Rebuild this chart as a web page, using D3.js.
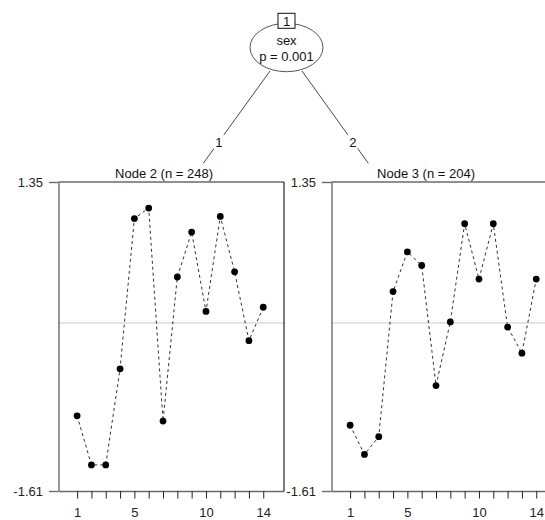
<!DOCTYPE html>
<html>
<head>
<meta charset="utf-8">
<script src="https://cdn.jsdelivr.net/npm/d3@7"></script>
<style>
  html, body { margin: 0; padding: 0; background: #fff; }
  svg { display: block; font-family: "Liberation Sans", Arial, Helvetica, sans-serif; }
</style>
</head>
<body>
<svg id="tree" width="545" height="520"></svg>
<script>
// Time points along the profile axis
const timePoints = [1, 2, 3, 4, 5, 6, 7, 8, 9, 10, 11, 12, 13, 14];
const timeTickLabels = [1, 5, 10, 14];

// Mean standardized response per time point in each terminal node
const node2Means = [-0.89, -1.36, -1.36, -0.44, 1.00, 1.10, -0.94, 0.44, 0.87, 0.11, 1.02, 0.49, -0.17, 0.15];
const node3Means = [-0.98, -1.26, -1.09, 0.30, 0.68, 0.55, -0.60, 0.01, 0.95, 0.42, 0.95, -0.04, -0.29, 0.42];

// Response range shown on each panel
const yTickValues = [-1.61, 1.35];
const referenceLevel = [0];

// Tree structure: split variable, test, branch labels, node sizes
const rootNode = { id: "1", variable: "sex", pValue: "p = 0.001" };
const branchLabels = ["1", "2"];
const terminalNodes = [
  { id: 2, n: 248, means: node2Means },
  { id: 3, n: 204, means: node3Means }
];

const svg = d3.select("#tree");
const FONT = 13;

// ---- Root node and edges ----
const root = { cx: 286.5, cy: 47.5, rx: 36.5, ry: 24.2 };
const edgeEnds = [
  { x1: 270, y1: 71, x2: 203.3, y2: 163.3 },
  { x1: 302, y1: 71, x2: 368.3, y2: 163.3 }
];
const edgeLabelY = 141.7;

const edges = svg.append("g");
edgeEnds.forEach((e, i) => {
  edges.append("line")
    .attr("x1", e.x1).attr("y1", e.y1)
    .attr("x2", e.x2).attr("y2", e.y2)
    .attr("stroke", "#4a4a4a").attr("stroke-width", 1);
  const t = (edgeLabelY - e.y1) / (e.y2 - e.y1);
  const lx = e.x1 + t * (e.x2 - e.x1);
  edges.append("rect")
    .attr("x", lx - 5).attr("y", edgeLabelY - 7)
    .attr("width", 10).attr("height", 14)
    .attr("fill", "#fff");
  edges.append("text")
    .attr("x", lx).attr("y", edgeLabelY + 4.8)
    .attr("text-anchor", "middle")
    .attr("font-size", FONT).attr("fill", "#111")
    .text(branchLabels[i]);
});

const rootG = svg.append("g");
rootG.append("ellipse")
  .attr("cx", root.cx).attr("cy", root.cy)
  .attr("rx", root.rx).attr("ry", root.ry)
  .attr("fill", "#fff").attr("stroke", "#555").attr("stroke-width", 1);
rootG.append("rect")
  .attr("x", root.cx - 8.5).attr("y", 13.3)
  .attr("width", 17).attr("height", 15)
  .attr("fill", "#fff").attr("stroke", "#111").attr("stroke-width", 1);
rootG.append("text")
  .attr("x", root.cx).attr("y", 26)
  .attr("text-anchor", "middle").attr("font-size", FONT).attr("fill", "#111")
  .text(rootNode.id);
rootG.append("text")
  .attr("x", root.cx).attr("y", 45)
  .attr("text-anchor", "middle").attr("font-size", FONT).attr("fill", "#111")
  .text(rootNode.variable);
rootG.append("text")
  .attr("x", root.cx).attr("y", 60.7)
  .attr("text-anchor", "middle").attr("font-size", FONT).attr("fill", "#111")
  .text(rootNode.pValue);

// ---- Terminal node panels ----
const panelTop = 182, panelBottom = 491, panelWidth = 225.5;
const panelLefts = [58.5, 331.5];
const titleCenters = [164, 426];

terminalNodes.forEach((node, i) => {
  const left = panelLefts[i];
  const right = left + panelWidth;

  const x = d3.scaleLinear().domain([-0.3, 15.45]).range([left, right]);
  const y = d3.scaleLinear().domain([yTickValues[0], yTickValues[1]]).range([panelBottom, panelTop]);

  const g = svg.append("g");

  // title
  g.append("text")
    .attr("x", titleCenters[i]).attr("y", 178)
    .attr("text-anchor", "middle").attr("font-size", FONT).attr("fill", "#111")
    .text(`Node ${node.id} (n = ${node.n})`);

  // reference line at zero
  g.selectAll("line.ref").data(referenceLevel).join("line")
    .attr("class", "ref")
    .attr("x1", left).attr("x2", right)
    .attr("y1", d => y(d)).attr("y2", d => y(d))
    .attr("stroke", "#c9c9c9").attr("stroke-width", 1);

  // frame: top (grey) and right (dark)
  g.append("line")
    .attr("x1", left).attr("x2", right)
    .attr("y1", panelTop).attr("y2", panelTop)
    .attr("stroke", "#6a6a6a").attr("stroke-width", 1.4);
  g.append("line")
    .attr("x1", right).attr("x2", right)
    .attr("y1", panelTop).attr("y2", panelBottom)
    .attr("stroke", "#222").attr("stroke-width", 1.2);

  // y axis
  const yAxis = d3.axisLeft(y)
    .tickValues(yTickValues)
    .tickFormat(d3.format(".2f"))
    .tickSize(9.5).tickSizeOuter(0).tickPadding(6);
  const yg = g.append("g").attr("transform", `translate(${left},0)`).call(yAxis);
  yg.select(".domain").attr("stroke", "#6a6a6a").attr("stroke-width", 1.4);
  yg.selectAll(".tick line").attr("stroke", "#6a6a6a").attr("stroke-width", 1.4);
  yg.selectAll(".tick text")
    .attr("font-size", FONT).attr("font-family", null).attr("fill", "#222")
    .text(d => d < 0 ? "-" + d3.format(".2f")(-d) : d3.format(".2f")(d));

  // x axis
  const xAxis = d3.axisBottom(x)
    .tickValues(timePoints)
    .tickFormat(d => timeTickLabels.includes(d) ? d : "")
    .tickSize(7.5).tickSizeOuter(0).tickPadding(9.3);
  const xg = g.append("g").attr("transform", `translate(0,${panelBottom})`).call(xAxis);
  xg.select(".domain").attr("stroke", "#6a6a6a").attr("stroke-width", 1.4);
  xg.selectAll(".tick line").attr("stroke", "#222").attr("stroke-width", 1);
  xg.selectAll(".tick text")
    .attr("font-size", FONT).attr("font-family", null).attr("fill", "#222");

  // mean profile
  const line = d3.line()
    .x((d, k) => x(timePoints[k]))
    .y(d => y(d));
  g.append("path")
    .datum(node.means)
    .attr("d", line)
    .attr("fill", "none")
    .attr("stroke", "#333")
    .attr("stroke-width", 1)
    .attr("stroke-dasharray", "3,3");

  g.selectAll("circle.pt").data(node.means).join("circle")
    .attr("class", "pt")
    .attr("cx", (d, k) => x(timePoints[k]))
    .attr("cy", d => y(d))
    .attr("r", 3.4)
    .attr("fill", "#000");
});
</script>
</body>
</html>
